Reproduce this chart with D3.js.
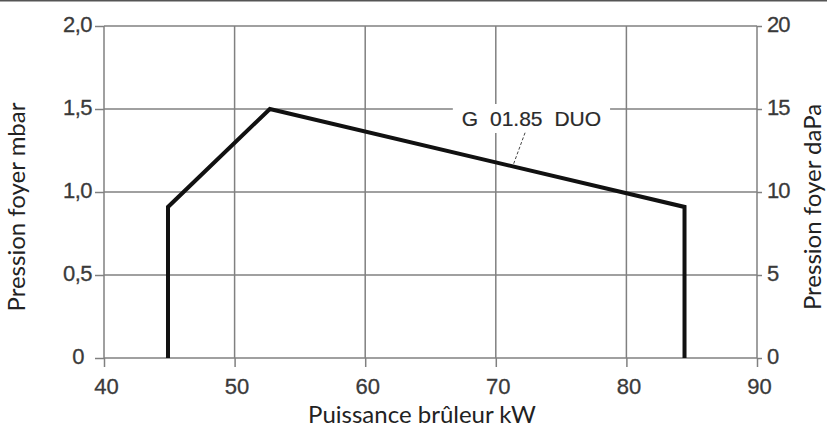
<!DOCTYPE html>
<html>
<head>
<meta charset="utf-8">
<script src="https://cdn.jsdelivr.net/npm/d3@7"></script>
<style>
  html, body { margin: 0; padding: 0; background: #fff; }
  svg { display: block; }
</style>
</head>
<body>
<svg id="chart" width="827" height="428"></svg>
<script>
// ---- data ----
const powerKW = [44.9, 44.9, 52.7, 84.45, 84.45];
const pressureMbar = [0, 0.91, 1.5, 0.91, 0];
const xTicks = [40, 50, 60, 70, 80, 90];
const yTicksMbar = [0, 0.5, 1.0, 1.5, 2.0];
const yTicksDaPa = [0, 5, 10, 15, 20];
const seriesLabel = "G 01.85 DUO";
const xTitle = "Puissance brûleur kW";
const yTitleLeft = "Pression foyer mbar";
const yTitleRight = "Pression foyer daPa";

// ---- layout ----
const W = 827, H = 428;
const svg = d3.select("#chart");
const x = d3.scaleLinear().domain([40, 90]).range([104, 757]);
const y = d3.scaleLinear().domain([0, 2]).range([358, 26]);
const y2 = d3.scaleLinear().domain([0, 20]).range([358, 26]);

const gridColor = "#808080";
const tickFont = "'Liberation Sans', Arial, sans-serif";
const titleFont = "Lato, 'Noto Sans', sans-serif";

// top border line
svg.append("line").attr("x1", 0).attr("x2", W).attr("y1", 0.75).attr("y2", 0.75)
  .attr("stroke", "#555").attr("stroke-width", 1.5);

// grid
const grid = svg.append("g");
grid.selectAll("line.v").data(xTicks).join("line")
  .attr("x1", d => x(d)).attr("x2", d => x(d))
  .attr("y1", y(2)).attr("y2", y(0))
  .attr("stroke", gridColor).attr("stroke-width", 1.5);
grid.selectAll("line.h").data(yTicksMbar).join("line")
  .attr("x1", x(40)).attr("x2", x(90))
  .attr("y1", d => y(d)).attr("y2", d => y(d))
  .attr("stroke", gridColor).attr("stroke-width", 1.5);

// axes
const axLeft = svg.append("g").attr("transform", `translate(${x(40)},0)`)
  .call(d3.axisLeft(y).tickValues(yTicksMbar).tickSize(9).tickPadding(3)
    .tickFormat(d => d === 0 ? "0" : d3.format(".1f")(d).replace(".", ",")));
const axRight = svg.append("g").attr("transform", `translate(${x(90)},0)`)
  .call(d3.axisRight(y2).tickValues(yTicksDaPa).tickSize(5).tickPadding(5).tickFormat(d3.format("d")));
const axBottom = svg.append("g").attr("transform", `translate(0,${y(0)})`)
  .call(d3.axisBottom(x).tickValues(xTicks).tickSize(9).tickPadding(8).tickFormat(d3.format("d")));

[axLeft, axRight, axBottom].forEach(a => {
  a.select(".domain").remove();
  a.selectAll(".tick line").attr("stroke", gridColor).attr("stroke-width", 1.5);
  a.selectAll(".tick text").attr("font-family", tickFont).attr("font-size", 22)
    .attr("fill", "#3a3a3a").attr("stroke", "#3a3a3a").attr("stroke-width", 0.3);
});
axLeft.selectAll(".tick text").attr("dy", "0.27em").attr("letter-spacing", -0.5)
  .attr("dx", d => d === 0 ? -8 : 0);
axRight.selectAll(".tick text").attr("dy", "0.27em").attr("letter-spacing", -1);
axBottom.selectAll(".tick text").attr("dy", "0.86em").attr("dx", 2);

// series label annotation (white box interrupts grid)
const labelX = x(72.73), labelBase = y(1.5) + 17;
const lblG = svg.append("g");
const lblText = lblG.append("text")
  .attr("x", labelX).attr("y", labelBase)
  .attr("text-anchor", "middle")
  .attr("font-family", tickFont).attr("font-size", 21)
  .attr("word-spacing", 6)
  .attr("fill", "#2a2a2a").attr("stroke", "#2a2a2a").attr("stroke-width", 0.2)
  .text(seriesLabel);
const bb = lblText.node().getBBox();
lblG.insert("rect", "text")
  .attr("x", bb.x - 9).attr("y", bb.y - 3)
  .attr("width", bb.width + 18).attr("height", bb.height + 6)
  .attr("fill", "#fff");
// leader
svg.append("line")
  .attr("x1", x(72.24)).attr("y1", y(1.357))
  .attr("x2", x(71.32)).attr("y2", y(1.16))
  .attr("stroke", "#444").attr("stroke-width", 1).attr("stroke-dasharray", "3,2");

// series line
const pts = powerKW.map((p, i) => [p, pressureMbar[i]]);
svg.append("path")
  .attr("d", d3.line().x(d => x(d[0])).y(d => y(d[1]))(pts))
  .attr("fill", "none").attr("stroke", "#111").attr("stroke-width", 4)
  .attr("stroke-linejoin", "miter");

// titles
const titleStyle = sel => sel.attr("text-anchor", "middle")
  .attr("font-family", titleFont).attr("font-size", 24).attr("font-weight", 400)
  .attr("fill", "#222");
svg.append("text").attr("x", 422).attr("y", 423).call(titleStyle).text(xTitle);
svg.append("text").attr("transform", "translate(25,207) rotate(-90)").call(titleStyle).text(yTitleLeft);
svg.append("text").attr("transform", "translate(821,207) rotate(-90)").call(titleStyle).text(yTitleRight);
</script>
</body>
</html>
